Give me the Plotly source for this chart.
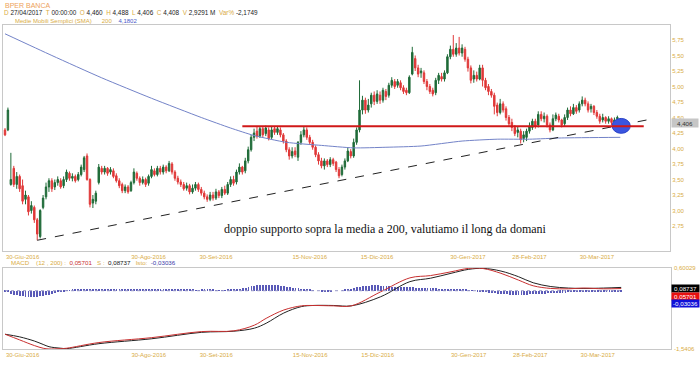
import plotly.graph_objects as go

# ---------------- data ----------------
open_ = [
4.30,4.30,3.42,3.68,3.42,3.55,3.40,3.18,3.22,3.00,
3.05,2.85,2.58,3.05,3.22,3.38,3.48,3.38,3.45,3.48,
3.40,3.50,3.60,3.52,3.55,3.50,3.58,3.66,3.88,3.50,
3.12,3.15,3.45,3.68,3.62,3.68,3.62,3.64,3.56,3.48,
3.42,3.32,3.38,3.32,3.45,3.60,3.52,3.45,3.50,3.44,
3.55,3.64,3.58,3.68,3.62,3.70,3.64,3.75,3.62,3.52,
3.46,3.42,3.36,3.40,3.30,3.36,3.42,3.34,3.28,3.22,
3.18,3.25,3.20,3.30,3.24,3.34,3.28,3.42,3.50,3.46,
3.62,3.70,3.64,3.80,3.98,4.18,4.28,4.20,4.32,4.24,
4.30,4.18,4.32,4.26,4.30,4.22,4.12,3.98,3.88,3.96,
3.86,4.10,4.22,4.30,4.18,4.10,4.02,3.90,3.80,3.72,
3.80,3.74,3.82,3.78,3.66,3.58,3.70,3.80,3.95,3.88,
4.10,4.30,4.62,4.78,4.62,4.72,4.86,4.76,4.86,4.78,
4.92,4.86,5.02,5.08,5.02,5.06,4.98,4.94,4.90,5.20,
5.45,5.30,5.22,5.22,5.08,5.00,4.94,4.90,5.10,5.16,
5.12,5.22,5.48,5.60,5.52,5.62,5.54,5.60,5.44,5.30,
5.12,5.18,5.12,5.30,5.10,5.00,4.92,4.86,4.70,4.58,
4.72,4.64,4.50,4.42,4.34,4.26,4.28,4.16,4.18,4.28,
4.34,4.44,4.38,4.55,4.48,4.52,4.38,4.30,4.48,4.52,
4.46,4.40,4.50,4.62,4.56,4.66,4.62,4.72,4.78,4.72,
4.64,4.68,4.58,4.52,4.46,4.50,4.44,4.48,4.42,4.48,
4.460]

close = [
4.22,4.62,3.50,3.42,3.55,3.35,3.15,3.25,2.98,3.08,
2.85,2.62,3.00,3.20,3.38,3.48,3.35,3.45,3.50,3.38,
3.50,3.62,3.52,3.55,3.48,3.58,3.70,3.85,3.50,3.10,
3.18,3.28,3.70,3.62,3.68,3.60,3.66,3.55,3.48,3.40,
3.32,3.38,3.30,3.45,3.62,3.52,3.45,3.50,3.42,3.55,
3.66,3.58,3.68,3.62,3.70,3.64,3.76,3.62,3.52,3.46,
3.42,3.35,3.40,3.30,3.36,3.42,3.34,3.28,3.22,3.18,
3.25,3.20,3.30,3.24,3.34,3.28,3.42,3.50,3.44,3.62,
3.70,3.62,3.80,3.98,4.18,4.25,4.20,4.32,4.22,4.33,
4.16,4.30,4.26,4.32,4.22,4.12,3.98,3.88,3.95,3.90,
4.10,4.22,4.30,4.18,4.10,4.02,3.90,3.80,3.72,3.80,
3.74,3.82,3.76,3.66,3.56,3.70,3.80,3.96,3.88,4.10,
4.30,4.62,4.78,4.62,4.70,4.86,4.76,4.88,4.78,4.94,
4.84,5.02,5.10,5.00,5.08,4.98,4.92,4.90,5.15,5.55,
5.30,5.20,5.25,5.08,5.00,4.92,4.88,5.10,5.18,5.12,
5.22,5.48,5.60,5.52,5.62,5.54,5.62,5.44,5.30,5.10,
5.18,5.12,5.30,5.10,4.98,4.92,4.86,4.68,4.58,4.72,
4.62,4.50,4.40,4.34,4.24,4.30,4.14,4.22,4.28,4.36,
4.44,4.36,4.55,4.48,4.52,4.38,4.30,4.48,4.54,4.46,
4.38,4.50,4.62,4.56,4.66,4.60,4.72,4.78,4.72,4.62,
4.68,4.58,4.52,4.44,4.50,4.44,4.48,4.42,4.46,4.50,
4.408]

high = [
4.33,4.66,3.93,3.72,3.62,3.58,3.50,3.32,3.25,3.15,
3.08,2.88,3.02,3.25,3.45,3.52,3.52,3.50,3.55,3.52,
3.55,3.66,3.63,3.60,3.58,3.62,3.74,3.88,3.92,3.52,
3.25,3.32,3.75,3.72,3.72,3.70,3.70,3.68,3.60,3.52,
3.45,3.42,3.41,3.48,3.68,3.63,3.55,3.55,3.53,3.58,
3.72,3.68,3.72,3.72,3.74,3.73,3.80,3.78,3.65,3.56,
3.50,3.46,3.45,3.43,3.42,3.46,3.45,3.38,3.32,3.26,
3.30,3.30,3.35,3.33,3.38,3.40,3.46,3.55,3.56,3.66,
3.76,3.72,3.85,4.03,4.22,4.32,4.35,4.36,4.36,4.37,
4.34,4.35,4.36,4.35,4.34,4.25,4.15,4.02,4.02,4.02,
4.12,4.28,4.36,4.34,4.22,4.14,4.05,3.94,3.85,3.84,
3.83,3.86,3.85,3.80,3.70,3.74,3.84,4.02,3.99,4.16,
4.34,5.10,4.85,4.82,4.80,4.90,4.92,4.94,4.92,4.98,
4.96,5.06,5.15,5.12,5.12,5.10,5.02,4.98,5.18,5.64,
5.50,5.35,5.30,5.26,5.12,5.04,4.98,5.14,5.22,5.22,
5.26,5.52,5.66,5.83,5.70,5.80,5.68,5.64,5.48,5.34,
5.26,5.24,5.35,5.35,5.14,5.04,4.96,4.90,4.74,4.80,
4.76,4.68,4.54,4.48,4.38,4.36,4.32,4.28,4.32,4.42,
4.48,4.48,4.60,4.60,4.58,4.55,4.42,4.55,4.58,4.56,
4.48,4.55,4.66,4.68,4.72,4.70,4.76,4.84,4.82,4.76,
4.72,4.70,4.62,4.56,4.56,4.52,4.52,4.50,4.50,4.53,
4.488]

low = [
4.20,4.28,3.40,3.38,3.35,3.30,3.10,3.10,2.92,2.95,
2.80,2.52,2.55,3.02,3.18,3.30,3.30,3.33,3.40,3.35,
3.36,3.46,3.48,3.47,3.45,3.47,3.55,3.62,3.48,3.05,
3.04,3.10,3.42,3.58,3.58,3.56,3.58,3.52,3.45,3.36,
3.28,3.28,3.27,3.30,3.42,3.48,3.40,3.42,3.38,3.40,
3.52,3.55,3.55,3.58,3.58,3.60,3.62,3.58,3.48,3.42,
3.38,3.32,3.32,3.26,3.27,3.32,3.30,3.24,3.18,3.14,
3.15,3.16,3.17,3.20,3.20,3.25,3.25,3.38,3.40,3.42,
3.58,3.58,3.60,3.76,3.95,4.12,4.16,4.17,4.18,4.20,
4.13,4.15,4.22,4.22,4.18,4.08,3.94,3.82,3.84,3.86,
3.80,4.06,4.18,4.14,4.06,3.98,3.86,3.74,3.68,3.66,
3.70,3.70,3.72,3.62,3.52,3.55,3.66,3.78,3.84,3.85,
4.06,4.26,4.55,4.56,4.58,4.66,4.70,4.72,4.72,4.74,
4.78,4.82,4.98,4.96,4.98,4.94,4.88,4.86,4.88,5.18,
5.25,5.15,5.14,5.04,4.94,4.88,4.84,4.86,5.04,5.08,
5.08,5.20,5.44,5.48,5.48,5.50,5.48,5.40,5.24,5.05,
5.06,5.08,5.10,5.00,4.94,4.86,4.82,4.55,4.52,4.55,
4.58,4.45,4.36,4.28,4.20,4.18,4.08,4.10,4.12,4.24,
4.30,4.32,4.34,4.44,4.42,4.34,4.26,4.28,4.44,4.42,
4.34,4.36,4.46,4.52,4.54,4.56,4.58,4.68,4.68,4.58,
4.58,4.54,4.48,4.40,4.42,4.40,4.40,4.38,4.38,4.42,
4.406]

# 200-period simple moving average (read at selected bars)
sma_idx = [0, 16, 33, 50, 67, 77, 85, 96, 108, 119, 130, 142, 156, 168, 179, 190, 210]
sma_val = [5.85, 5.50, 5.14, 4.81, 4.50, 4.33, 4.21, 4.10, 4.05, 4.01, 4.02, 4.04, 4.12, 4.15, 4.15, 4.17, 4.18]

# MACD (12, 200) and signal line (read at selected bars)
macd_idx = [0, 5, 10, 13, 15, 19, 21, 32, 50, 67, 78, 85, 89, 95, 101, 105, 112, 118,
            128, 138, 145, 152, 158, 163, 169, 175, 180, 186, 192, 197, 204, 210]
macd_val = [-1.15, -1.30, -1.45, -1.52, -1.54, -1.53, -1.52, -1.37, -1.24, -1.08, -1.06, -0.91,
            -0.73, -0.51, -0.40, -0.39, -0.40, -0.40, -0.03, 0.34, 0.40, 0.50, 0.59, 0.585,
            0.46, 0.28, 0.13, 0.06, 0.05, 0.07, 0.05, 0.057]
signal_val = [-1.15, -1.22, -1.33, -1.42, -1.48, -1.52, -1.53, -1.40, -1.27, -1.10, -1.07, -0.99,
              -0.86, -0.59, -0.42, -0.39, -0.39, -0.40, -0.16, 0.24, 0.33, 0.46, 0.565, 0.59,
              0.52, 0.37, 0.21, 0.11, 0.07, 0.06, 0.07, 0.087]

hist = (
 [-0.01,-0.04,-0.08,-0.10,-0.12,-0.14,-0.15,-0.16,-0.17,-0.17,-0.17,-0.16,-0.15,-0.14,-0.12,-0.10,-0.08,-0.06,-0.04,-0.02,-0.01]
 + [0.01,0.01,0.02,0.02,0.02,0.03,0.03,0.03,0.03,0.02,0.02,0.03,0.03,0.04,0.04,0.03,0.03,0.03,0.02,0.02,
    0.02,0.02,0.03,0.03,0.03,0.03,0.04,0.04,0.03,0.03,0.03,0.02,0.02,0.02,0.02,0.02,0.03,0.03,0.03,0.03,
    0.02,0.02,0.02,0.02,0.01,0.01,0.02,0.02,0.02,0.02,0.02,0.01,0.01,0.01,0.01,0.02,0.02,0.03,0.04,0.05]
 + [0.06,0.08,0.10,0.12,0.13,0.14,0.15,0.15,0.16,0.16,0.15,0.15,0.14,0.13,0.12,0.11,0.10,0.08,0.07,0.06,0.05,0.04,0.03,0.02,0.01]
 + [0.00,0.00,-0.01,-0.01,-0.01,-0.01,0.00,0.00,0.00,0.01,0.02,0.03,0.05]
 + [0.07,0.09,0.11,0.12,0.13,0.13,0.14,0.14,0.14,0.13,0.13,0.12,0.12,0.11,0.11,0.10,0.10,0.10,0.09,0.09,0.09,0.08]
 + [0.08,0.08,0.07,0.07,0.07,0.06,0.06,0.05,0.05,0.05,0.04,0.04,0.04,0.03,0.03,0.02,0.02,0.01,0.01,0.00]
 + [-0.01,-0.02,-0.03,-0.04,-0.05,-0.06,-0.07,-0.08,-0.08,-0.09,-0.09,-0.10,-0.10,-0.10,-0.10,-0.10,-0.10,-0.10,-0.09,-0.09,
    -0.09,-0.08,-0.08,-0.08,-0.07,-0.07,-0.06,-0.06,-0.05,-0.05,-0.05,-0.04,-0.04,-0.04,-0.03,-0.03,-0.03,-0.02,-0.02,-0.02]
 + [-0.02,-0.02,-0.02,-0.02,-0.03,-0.03,-0.03,-0.03,-0.03,-0.03]
)

tick_labels = ['30-Giu-2016', '30-Ago-2016', '30-Set-2016', '15-Nov-2016',
               '15-Dic-2016', '30-Gen-2017', '28-Feb-2017', '30-Mar-2017']
tick_bars = [6, 49, 72, 104, 127, 158, 179, 202]
price_ticks = [2.75, 3.00, 3.25, 3.50, 3.75, 4.00, 4.25, 4.50, 4.75, 5.00, 5.25, 5.50, 5.75]

support_level = 4.36
support_from, support_to = 81, 218
trend_start = (11, 2.52)
trend_end = (219, 4.46)
last_price = 4.406
comment = "doppio supporto sopra la media a 200, valutiamo il long da domani"

n = len(close)
for name, arr in [("open", open_), ("high", high), ("low", low), ("hist", hist)]:
    if len(arr) != n:
        raise ValueError(f"{name} has {len(arr)} values, expected {n}")
idx = list(range(n))

# ---------------- styling ----------------
W, H = 700, 365
def px(x): return x / W
def py(y): return 1 - y / H

GOLD = '#d9ac45'
GREEN = '#1f6b38'
RED = '#e03838'
FRAME = '#c8c8c8'
SANS = 'Liberation Sans, Arial, sans-serif'

xl = (3 - 5) / 2.93
xr = (670 - 5) / 2.93

fig = go.Figure()

fig.add_trace(go.Candlestick(
    x=idx, open=open_, high=high, low=low, close=close,
    increasing=dict(line=dict(color=GREEN, width=1), fillcolor=GREEN),
    decreasing=dict(line=dict(color=RED, width=1), fillcolor=RED),
    whiskerwidth=0, xaxis='x', yaxis='y', showlegend=False, hoverinfo='skip'))

fig.add_trace(go.Scatter(x=sma_idx, y=sma_val, mode='lines',
                         line=dict(color='#7383c8', width=1, shape='spline', smoothing=0.6),
                         xaxis='x', yaxis='y', showlegend=False, hoverinfo='skip'))

fig.add_trace(go.Bar(x=idx, y=hist, width=0.3, marker=dict(color='#5a5ab8', line=dict(width=0)),
                     xaxis='x2', yaxis='y2', showlegend=False, hoverinfo='skip'))
fig.add_trace(go.Scatter(x=macd_idx, y=signal_val, mode='lines',
                         line=dict(color='#222222', width=1, shape='spline'),
                         xaxis='x2', yaxis='y2', showlegend=False, hoverinfo='skip'))
fig.add_trace(go.Scatter(x=macd_idx, y=macd_val, mode='lines',
                         line=dict(color='#c83030', width=1, shape='spline'),
                         xaxis='x2', yaxis='y2', showlegend=False, hoverinfo='skip'))

shapes = []
shapes.append(dict(type='line', xref='x2', yref='y2', x0=0, x1=n - 1, y0=0, y1=0,
                   line=dict(color='#9a9ac8', width=1, dash='dot')))
shapes.append(dict(type='line', xref='x', yref='y', x0=trend_start[0], y0=trend_start[1],
                   x1=trend_end[0], y1=trend_end[1], line=dict(color='#222222', width=1, dash='dash')))
shapes.append(dict(type='circle', xref='x', yref='y', x0=n - 1 - 2.8, x1=n - 1 + 3.4,
                   y0=support_level - 0.115, y1=support_level + 0.125,
                   fillcolor='#3a55e0', line=dict(color='#2b44c8', width=1)))
shapes.append(dict(type='line', xref='x', yref='y', x0=support_from, x1=support_to,
                   y0=support_level, y1=support_level, line=dict(color='#d01818', width=2)))

ann = []
ann.append(dict(text='BPER BANCA', x=px(3), y=py(5), xref='paper', yref='paper',
                xanchor='left', yanchor='middle', showarrow=False,
                font=dict(family=SANS, size=7, color='#eda25a')))
def g(t): return f"<span style='color:{GOLD}'>{t}</span>"
line2 = (g('D') + ' 27/04/2017  ' + g('T') + ' 00:00:00  ' + g('O') + ' 4,460  ' + g('H') + ' 4,488  '
         + g('L') + ' 4,406  ' + g('C') + ' 4,408  ' + g('V') + ' 2,9291 M  ' + g('Var%') + ' -2,1749')
ann.append(dict(text=line2, x=px(2), y=py(13), xref='paper', yref='paper',
                xanchor='left', yanchor='middle', showarrow=False,
                font=dict(family=SANS, size=6.4, color='#222222')))
line3 = (g('Medie Mobili Semplici (SMA)') + '      ' + g('200') + '    '
         + "<span style='color:#4a5ac8'>4,1802</span>")
ann.append(dict(text=line3, x=px(13), y=py(20.5), xref='paper', yref='paper',
                xanchor='left', yanchor='middle', showarrow=False,
                font=dict(family=SANS, size=6, color=GOLD)))
line4 = (g('MACD') + '    ' + g('(12 , 200) :') + "  <span style='color:#c83030'>0,05701</span>   "
         + g('S :') + "  <span style='color:#111'>0,08737</span>   " + g('Isto:')
         + "  <span style='color:#3a3aa8'>-0,03036</span>")
ann.append(dict(text=line4, x=px(9), y=py(262), xref='paper', yref='paper',
                xanchor='left', yanchor='middle', showarrow=False,
                font=dict(family=SANS, size=6.2, color=GOLD)))
ann.append(dict(text=comment, x=px(386), y=py(229), xref='paper', yref='paper',
                xanchor='center', yanchor='middle', showarrow=False,
                font=dict(family='Liberation Serif, Times New Roman, serif', size=12, color='#111111')))
ann.append(dict(text='4,406', x=px(671), y=py(123), xref='paper', yref='paper',
                xanchor='left', yanchor='middle', showarrow=False, bgcolor='#c6c6c6',
                width=26, height=8, borderpad=0, align='center',
                font=dict(family=SANS, size=6.2, color='#333333')))
ann.append(dict(text='0,60029', x=px(672), y=py(268), xref='paper', yref='paper',
                xanchor='left', yanchor='middle', showarrow=False,
                font=dict(family=SANS, size=6, color=GOLD)))
ann.append(dict(text='-1,5406', x=px(672), y=py(349), xref='paper', yref='paper',
                xanchor='left', yanchor='middle', showarrow=False,
                font=dict(family=SANS, size=6, color=GOLD)))
for txt, bg, yy in [('0,08737', '#000000', 288.5), ('0,05701', '#e81010', 296), ('-0,03036', '#1010d8', 303.5)]:
    ann.append(dict(text=txt, x=px(671), y=py(yy), xref='paper', yref='paper',
                    xanchor='left', yanchor='middle', showarrow=False, bgcolor=bg,
                    width=27, height=7, borderpad=0, align='center',
                    font=dict(family=SANS, size=6.2, color='#ffffff')))

axis_common = dict(showgrid=False, zeroline=False, showline=True, mirror=True,
                   linecolor=FRAME, linewidth=1, ticks='', automargin=False)

fig.update_layout(
    width=W, height=H, margin=dict(l=0, r=0, t=0, b=0),
    paper_bgcolor='white', plot_bgcolor='white', showlegend=False, bargap=0,
    xaxis=dict(domain=[px(3), px(670)], range=[xl, xr], anchor='y',
               tickvals=tick_bars, ticktext=tick_labels, rangeslider=dict(visible=False),
               tickfont=dict(family=SANS, size=6, color=GOLD), **axis_common),
    yaxis=dict(domain=[py(251), py(25)], range=[5.75 - 211 / 62, 5.75 + 15 / 62], anchor='x',
               side='right', tickvals=price_ticks,
               ticktext=[f"{v:.2f}".replace('.', ',') for v in price_ticks],
               tickfont=dict(family=SANS, size=6, color=GOLD), **axis_common),
    xaxis2=dict(domain=[px(3), px(671)], range=[xl, xr], anchor='y2', matches='x',
                tickvals=tick_bars, ticktext=tick_labels,
                tickfont=dict(family=SANS, size=6, color=GOLD), **axis_common),
    yaxis2=dict(domain=[py(349), py(268)], range=[-1.5406, 0.60029], anchor='x2',
                side='right', showticklabels=False, **axis_common),
    shapes=shapes, annotations=ann,
)

fig.write_html("out.html", config={'displayModeBar': False},
               post_script="document.body.style.margin='0';")
